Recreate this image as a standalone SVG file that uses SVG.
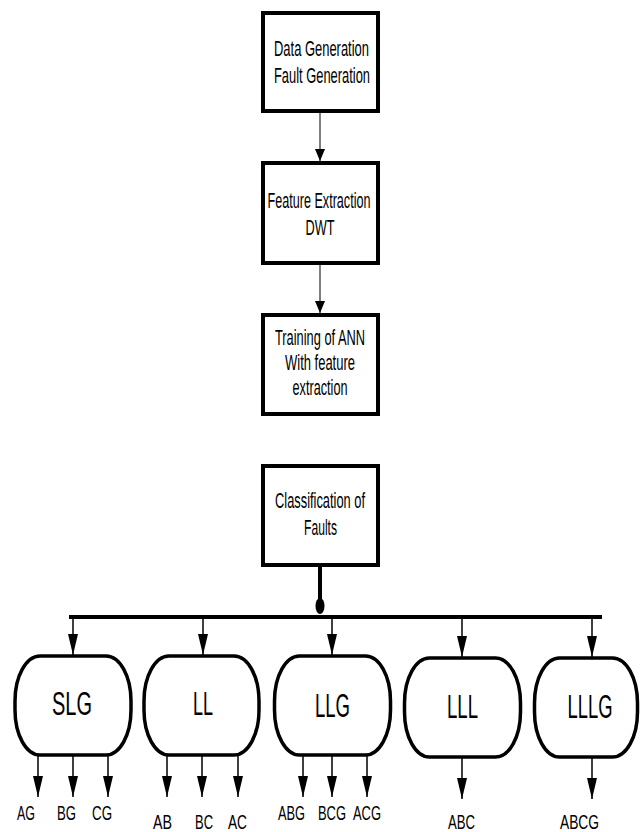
<svg xmlns="http://www.w3.org/2000/svg" width="640" height="832" viewBox="0 0 640 832">
<style>
.box{fill:#fff;stroke:#000;stroke-width:4}
.node{fill:#fff;stroke:#000;stroke-width:3.5}
.t{font-family:"Liberation Sans",Arial,sans-serif;font-size:22px;fill:#000;text-anchor:middle}
.n{font-family:"Liberation Sans",Arial,sans-serif;font-size:33px;fill:#000;text-anchor:middle}
.l{font-family:"Liberation Sans",Arial,sans-serif;font-size:21px;fill:#000;text-anchor:middle}
.c1{stroke:#555;stroke-width:1.5;fill:none}
.c2{stroke:#000;stroke-width:1.5;fill:none}
.bus{stroke:#000;stroke-width:4;fill:none}
</style>
<defs>
<marker id="a1" markerUnits="userSpaceOnUse" markerWidth="12" markerHeight="10" refX="12" refY="5" orient="auto"><path d="M0,0 L12,5 L0,10 z" fill="#000"/></marker>
<marker id="a2" markerUnits="userSpaceOnUse" markerWidth="21" markerHeight="10" refX="21" refY="5" orient="auto"><path d="M0,0 L21,5 L0,10 z" fill="#000"/></marker>
</defs>
<rect width="640" height="832" fill="#fff"/>
<g id="connectors">
<line class="c1" x1="320" y1="112" x2="320" y2="161" marker-end="url(#a1)"/>
<line class="c1" x1="320" y1="265" x2="320" y2="313" marker-end="url(#a1)"/>
<line class="bus" x1="320" y1="567" x2="320" y2="604"/>
<ellipse cx="320" cy="606" rx="4.5" ry="8" fill="#000"/>
<line class="bus" x1="69" y1="617" x2="602" y2="617"/>
<line class="c2" x1="73" y1="619" x2="73" y2="655" marker-end="url(#a2)"/>
<line class="c2" x1="203" y1="619" x2="203" y2="655" marker-end="url(#a2)"/>
<line class="c2" x1="332" y1="619" x2="332" y2="655" marker-end="url(#a2)"/>
<line class="c2" x1="462" y1="619" x2="462" y2="657" marker-end="url(#a2)"/>
<line class="c2" x1="592" y1="619" x2="592" y2="657" marker-end="url(#a2)"/>
<line class="c2" x1="38" y1="756" x2="38" y2="797" marker-end="url(#a2)"/>
<line class="c2" x1="73" y1="756" x2="73" y2="797" marker-end="url(#a2)"/>
<line class="c2" x1="108" y1="756" x2="108" y2="797" marker-end="url(#a2)"/>
<line class="c2" x1="167" y1="756" x2="167" y2="797" marker-end="url(#a2)"/>
<line class="c2" x1="202" y1="756" x2="202" y2="797" marker-end="url(#a2)"/>
<line class="c2" x1="238" y1="756" x2="238" y2="797" marker-end="url(#a2)"/>
<line class="c2" x1="303" y1="756" x2="303" y2="797" marker-end="url(#a2)"/>
<line class="c2" x1="332" y1="756" x2="332" y2="797" marker-end="url(#a2)"/>
<line class="c2" x1="367" y1="756" x2="367" y2="797" marker-end="url(#a2)"/>
<line class="c2" x1="462" y1="758" x2="462" y2="799" marker-end="url(#a2)"/>
<line class="c2" x1="592" y1="758" x2="592" y2="799" marker-end="url(#a2)"/>
</g>
<g id="box1">
<rect class="box" x="263" y="13" width="115" height="98"/>
<text class="t" x="321.5" y="56" textLength="95" lengthAdjust="spacingAndGlyphs">Data Generation</text>
<text class="t" x="322" y="83" textLength="96" lengthAdjust="spacingAndGlyphs">Fault Generation</text>
</g>
<g id="box2">
<rect class="box" x="263" y="163" width="115" height="100"/>
<text class="t" x="319" y="208" textLength="103" lengthAdjust="spacingAndGlyphs">Feature Extraction</text>
<text class="t" x="320" y="235" textLength="29" lengthAdjust="spacingAndGlyphs">DWT</text>
</g>
<g id="box3">
<rect class="box" x="263" y="315" width="115" height="99"/>
<text class="t" x="320" y="345" textLength="90" lengthAdjust="spacingAndGlyphs">Training of ANN</text>
<text class="t" x="320" y="370" textLength="70" lengthAdjust="spacingAndGlyphs">With feature</text>
<text class="t" x="320" y="395" textLength="55" lengthAdjust="spacingAndGlyphs">extraction</text>
</g>
<g id="box4">
<rect class="box" x="263" y="466" width="115" height="99"/>
<text class="t" x="320" y="508" textLength="90" lengthAdjust="spacingAndGlyphs">Classification of</text>
<text class="t" x="320.5" y="535" textLength="33" lengthAdjust="spacingAndGlyphs">Faults</text>
</g>
<g id="slg">
<rect class="node" x="15" y="656" width="116" height="99" rx="25" ry="45"/>
<text class="n" x="72" y="715" textLength="40" lengthAdjust="spacingAndGlyphs">SLG</text>
</g>
<g id="ll">
<rect class="node" x="144" y="656" width="115" height="99" rx="25" ry="45"/>
<text class="n" x="203" y="715" textLength="20" lengthAdjust="spacingAndGlyphs">LL</text>
</g>
<g id="llg">
<rect class="node" x="274.5" y="656" width="116" height="99" rx="25" ry="45"/>
<text class="n" x="332.5" y="717" textLength="35" lengthAdjust="spacingAndGlyphs">LLG</text>
</g>
<g id="lll">
<rect class="node" x="404.5" y="658" width="116" height="99" rx="25" ry="45"/>
<text class="n" x="462.5" y="718" textLength="31" lengthAdjust="spacingAndGlyphs">LLL</text>
</g>
<g id="lllg">
<rect class="node" x="534.5" y="658" width="103" height="99" rx="25" ry="45"/>
<text class="n" x="590" y="718" textLength="45" lengthAdjust="spacingAndGlyphs">LLLG</text>
</g>
<g id="leaves">
<text class="l" x="26" y="820" textLength="18" lengthAdjust="spacingAndGlyphs">AG</text>
<text class="l" x="66.5" y="820" textLength="19" lengthAdjust="spacingAndGlyphs">BG</text>
<text class="l" x="102" y="820" textLength="20" lengthAdjust="spacingAndGlyphs">CG</text>
<text class="l" x="162.5" y="829" textLength="19" lengthAdjust="spacingAndGlyphs">AB</text>
<text class="l" x="204" y="829" textLength="18" lengthAdjust="spacingAndGlyphs">BC</text>
<text class="l" x="237.5" y="829" textLength="19" lengthAdjust="spacingAndGlyphs">AC</text>
<text class="l" x="291.5" y="820" textLength="27" lengthAdjust="spacingAndGlyphs">ABG</text>
<text class="l" x="332" y="820" textLength="28" lengthAdjust="spacingAndGlyphs">BCG</text>
<text class="l" x="367" y="820" textLength="28" lengthAdjust="spacingAndGlyphs">ACG</text>
<text class="l" x="461.5" y="829" textLength="27" lengthAdjust="spacingAndGlyphs">ABC</text>
<text class="l" x="579.5" y="829" textLength="39" lengthAdjust="spacingAndGlyphs">ABCG</text>
</g>
</svg>
